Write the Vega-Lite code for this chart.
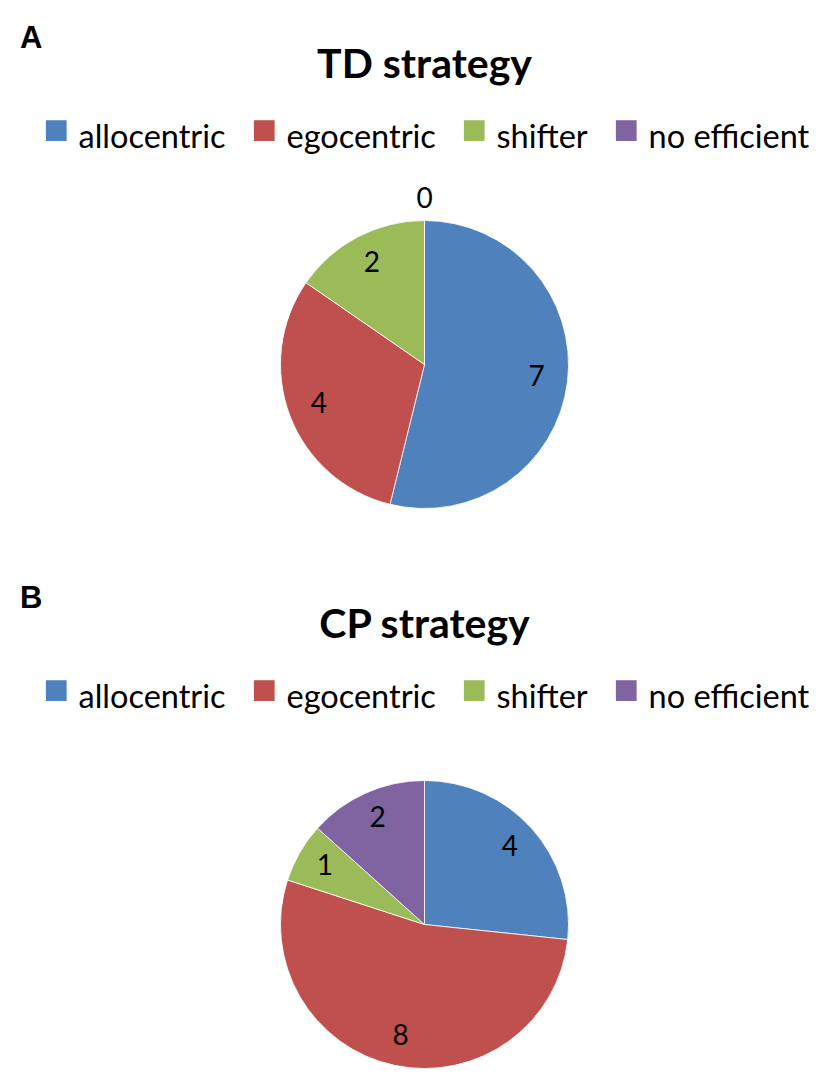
{
  "$schema": "https://vega.github.io/schema/vega-lite/v6.json",
  "background": "white",
  "padding": {"left": 20, "top": 23, "right": 0, "bottom": 0},
  "datasets": {
    "td": [
      {"idx": 1, "strategy": "allocentric", "value": 7},
      {"idx": 2, "strategy": "egocentric", "value": 4},
      {"idx": 3, "strategy": "shifter", "value": 2},
      {"idx": 4, "strategy": "no efficient", "value": 0}
    ],
    "cp": [
      {"idx": 1, "strategy": "allocentric", "value": 4},
      {"idx": 2, "strategy": "egocentric", "value": 8},
      {"idx": 3, "strategy": "shifter", "value": 1},
      {"idx": 4, "strategy": "no efficient", "value": 2}
    ]
  },
  "spacing": 29,
  "resolve": {"scale": {"color": "independent"}, "legend": {"color": "independent"}},
  "vconcat": [
    {
      "title": {"text": "A", "anchor": "start", "font": "Liberation Sans", "fontSize": 31, "fontWeight": "bold", "offset": -10},
      "resolve": {"scale": {"color": "independent"}, "legend": {"color": "independent"}},
      "vconcat": [
        {
          "title": {"text": "TD strategy", "anchor": "middle", "font": "Lato", "fontSize": 41, "fontWeight": "bold", "offset": 35},
          "resolve": {"scale": {"color": "independent"}, "legend": {"color": "independent"}},
          "vconcat": [
            {
              "data": {"name": "td"},
              "width": 809,
              "height": 379,
              "layer": [
                {
                  "mark": {"type": "arc", "outerRadius": 144, "stroke": "#ffffff", "strokeWidth": 0.8},
                  "encoding": {
                    "theta": {"field": "value", "type": "quantitative", "stack": true},
                    "order": {"field": "idx", "type": "quantitative"},
                    "color": {
                      "field": "strategy", "type": "nominal",
                      "scale": {"domain": ["allocentric", "egocentric", "shifter", "no efficient"], "range": ["#4F81BD", "#C0504D", "#9BBB59", "#8064A2"]},
                      "legend": {"orient": "top", "direction": "horizontal", "title": null, "labelFont": "Lato", "labelFontSize": 32.5, "labelColor": "#000000", "labelLimit": 0, "symbolType": "M-1,-1.75H1V0.25H-1Z", "symbolSize": 430, "symbolStrokeWidth": 0, "symbolOpacity": 1, "columnPadding": 22, "labelOffset": 6, "offset": 20}
                    }
                  }
                },
                {
                  "mark": {"type": "text", "radius": 113, "font": "Lato", "fontSize": 28, "color": "#000000"},
                  "encoding": {
                    "theta": {"field": "value", "type": "quantitative", "stack": true},
                    "order": {"field": "idx", "type": "quantitative"},
                    "text": {"condition": {"test": "datum.value > 0", "field": "value", "type": "quantitative"}, "value": ""}
                  }
                },
                {
                  "mark": {"type": "text", "radius": 165, "font": "Lato", "fontSize": 28, "color": "#000000"},
                  "encoding": {
                    "theta": {"field": "value", "type": "quantitative", "stack": true},
                    "order": {"field": "idx", "type": "quantitative"},
                    "text": {"condition": {"test": "datum.value == 0", "field": "value", "type": "quantitative"}, "value": ""}
                  }
                }
              ]
            }
          ]
        }
      ]
    },
    {
      "title": {"text": "B", "anchor": "start", "font": "Liberation Sans", "fontSize": 31, "fontWeight": "bold", "offset": -10},
      "resolve": {"scale": {"color": "independent"}, "legend": {"color": "independent"}},
      "vconcat": [
        {
          "title": {"text": "CP strategy", "anchor": "middle", "font": "Lato", "fontSize": 41, "fontWeight": "bold", "offset": 35},
          "resolve": {"scale": {"color": "independent"}, "legend": {"color": "independent"}},
          "vconcat": [
            {
              "data": {"name": "cp"},
              "width": 809,
              "height": 379,
              "layer": [
                {
                  "mark": {"type": "arc", "outerRadius": 144, "stroke": "#ffffff", "strokeWidth": 0.8},
                  "encoding": {
                    "theta": {"field": "value", "type": "quantitative", "stack": true},
                    "order": {"field": "idx", "type": "quantitative"},
                    "color": {
                      "field": "strategy", "type": "nominal",
                      "scale": {"domain": ["allocentric", "egocentric", "shifter", "no efficient"], "range": ["#4F81BD", "#C0504D", "#9BBB59", "#8064A2"]},
                      "legend": {"orient": "top", "direction": "horizontal", "title": null, "labelFont": "Lato", "labelFontSize": 32.5, "labelColor": "#000000", "labelLimit": 0, "symbolType": "M-1,-1.75H1V0.25H-1Z", "symbolSize": 430, "symbolStrokeWidth": 0, "symbolOpacity": 1, "columnPadding": 22, "labelOffset": 6, "offset": 20}
                    }
                  }
                },
                {
                  "mark": {"type": "text", "radius": 115, "font": "Lato", "fontSize": 28, "color": "#000000"},
                  "encoding": {
                    "theta": {"field": "value", "type": "quantitative", "stack": true},
                    "order": {"field": "idx", "type": "quantitative"},
                    "text": {"field": "value", "type": "quantitative"}
                  }
                }
              ]
            }
          ]
        }
      ]
    }
  ],
  "config": {
    "view": {"stroke": null},
    "legend": {"layout": {"top": {"anchor": "middle"}}}
  }
}
